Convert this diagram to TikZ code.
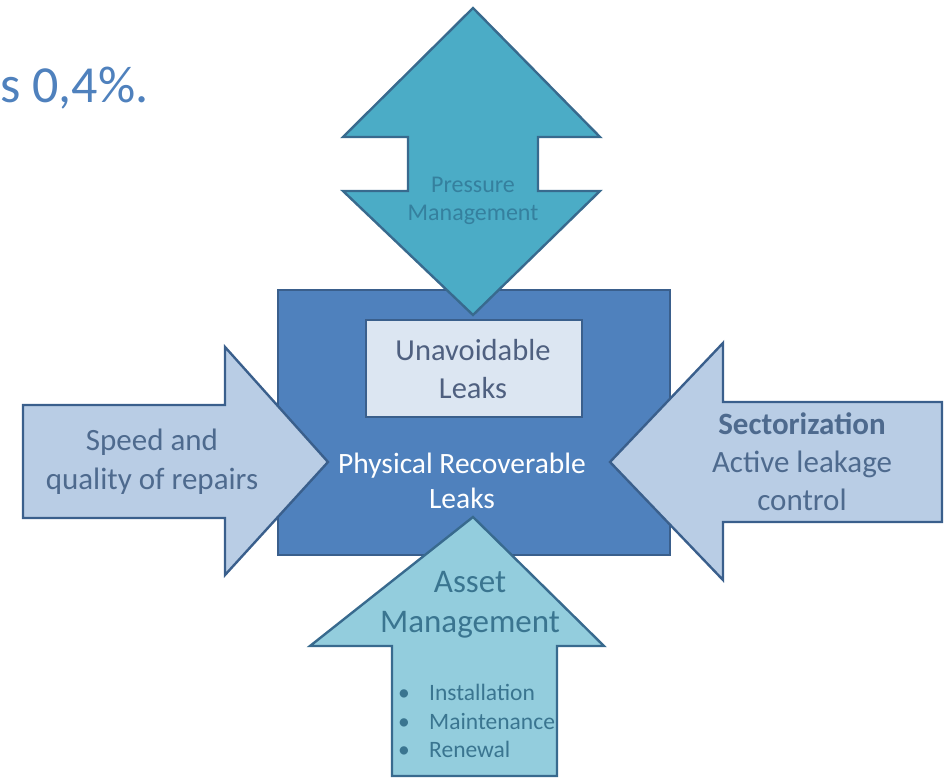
\documentclass[tikz,border=0pt]{standalone}
\usepackage{fontspec}
\setmainfont{Carlito}
\definecolor{mainblue}{HTML}{4F81BD}
\definecolor{mainborder}{HTML}{3A5F8C}
\definecolor{topfill}{HTML}{4BACC6}
\definecolor{topborder}{HTML}{386A8E}
\definecolor{toptext}{HTML}{35809E}
\definecolor{lightfill}{HTML}{B9CDE5}
\definecolor{lighttext}{HTML}{4E6A8E}
\definecolor{botfill}{HTML}{93CDDD}
\definecolor{bottext}{HTML}{3A7590}
\definecolor{unavfill}{HTML}{DCE6F2}
\definecolor{unavtext}{HTML}{4F6080}
\tikzset{
  shapeline/.style={line width=2.4pt, line join=miter},
  mainbox/.style={shapeline, fill=mainblue, draw=mainborder},
  unavbox/.style={shapeline, fill=unavfill, draw=mainborder},
  toparrow/.style={shapeline, fill=topfill, draw=topborder},
  sidearrow/.style={shapeline, fill=lightfill, draw=mainborder},
  botarrow/.style={shapeline, fill=botfill, draw=topborder},
  lbl/.style={inner sep=0pt, align=center},
}
\begin{document}
\begin{tikzpicture}[x=1pt,y=-1pt]
\useasboundingbox (0,0) rectangle (948,778);

\node[inner sep=0pt, anchor=base west, text=mainblue, font=\fontsize{52}{60}\selectfont] (title) at (0,103) {s 0,4\%.};

\draw[mainbox] (278,290) rectangle (670,555);
\draw[unavbox] (366,320) rectangle (582,417);

\draw[toparrow] (473,8) -- (600,137) -- (538,137) -- (538,191) -- (600,191) -- (473,315)
  -- (343,191) -- (408,191) -- (408,137) -- (343,137) -- cycle;
\draw[sidearrow] (23,405) -- (225,405) -- (225,347) -- (328,462) -- (225,575) -- (225,518) -- (23,518) -- cycle;
\draw[sidearrow] (942,402) -- (723,402) -- (723,343) -- (610,462) -- (723,580) -- (723,522) -- (942,522) -- cycle;
\draw[botarrow] (473,517) -- (604,646) -- (557,646) -- (557,776) -- (392,776) -- (392,646) -- (310,646) -- cycle;

\node[lbl, text=toptext, font=\fontsize{24}{28}\selectfont] (press) at (473,201) {Pressure\\Management};
\node[lbl, text=unavtext, font=\fontsize{30.5}{38}\selectfont] (unav) at (473,369) {Unavoidable\\Leaks};
\node[lbl, text=white, font=\fontsize{29.5}{35}\selectfont] (phys) at (462,481) {Physical Recoverable\\Leaks};
\node[lbl, text=lighttext, font=\fontsize{31}{39}\selectfont] (speed) at (152,462) {Speed and\\quality of repairs};
\node[lbl, text=lighttext, font=\fontsize{31}{38}\selectfont] (sect) at (802,462) {\textbf{Sectorization}\\Active leakage\\control};
\node[lbl, text=bottext, font=\fontsize{33}{40}\selectfont] (asset) at (470,605) {Asset\\Management};
\node[inner sep=0pt, anchor=west, align=left, text=bottext, font=\fontsize{23.5}{28.5}\selectfont] (bul) at (398,721)
  {\makebox[31pt][l]{\textbullet}Installation\\\makebox[31pt][l]{\textbullet}Maintenance\\\makebox[31pt][l]{\textbullet}Renewal};
\end{tikzpicture}
\end{document}
